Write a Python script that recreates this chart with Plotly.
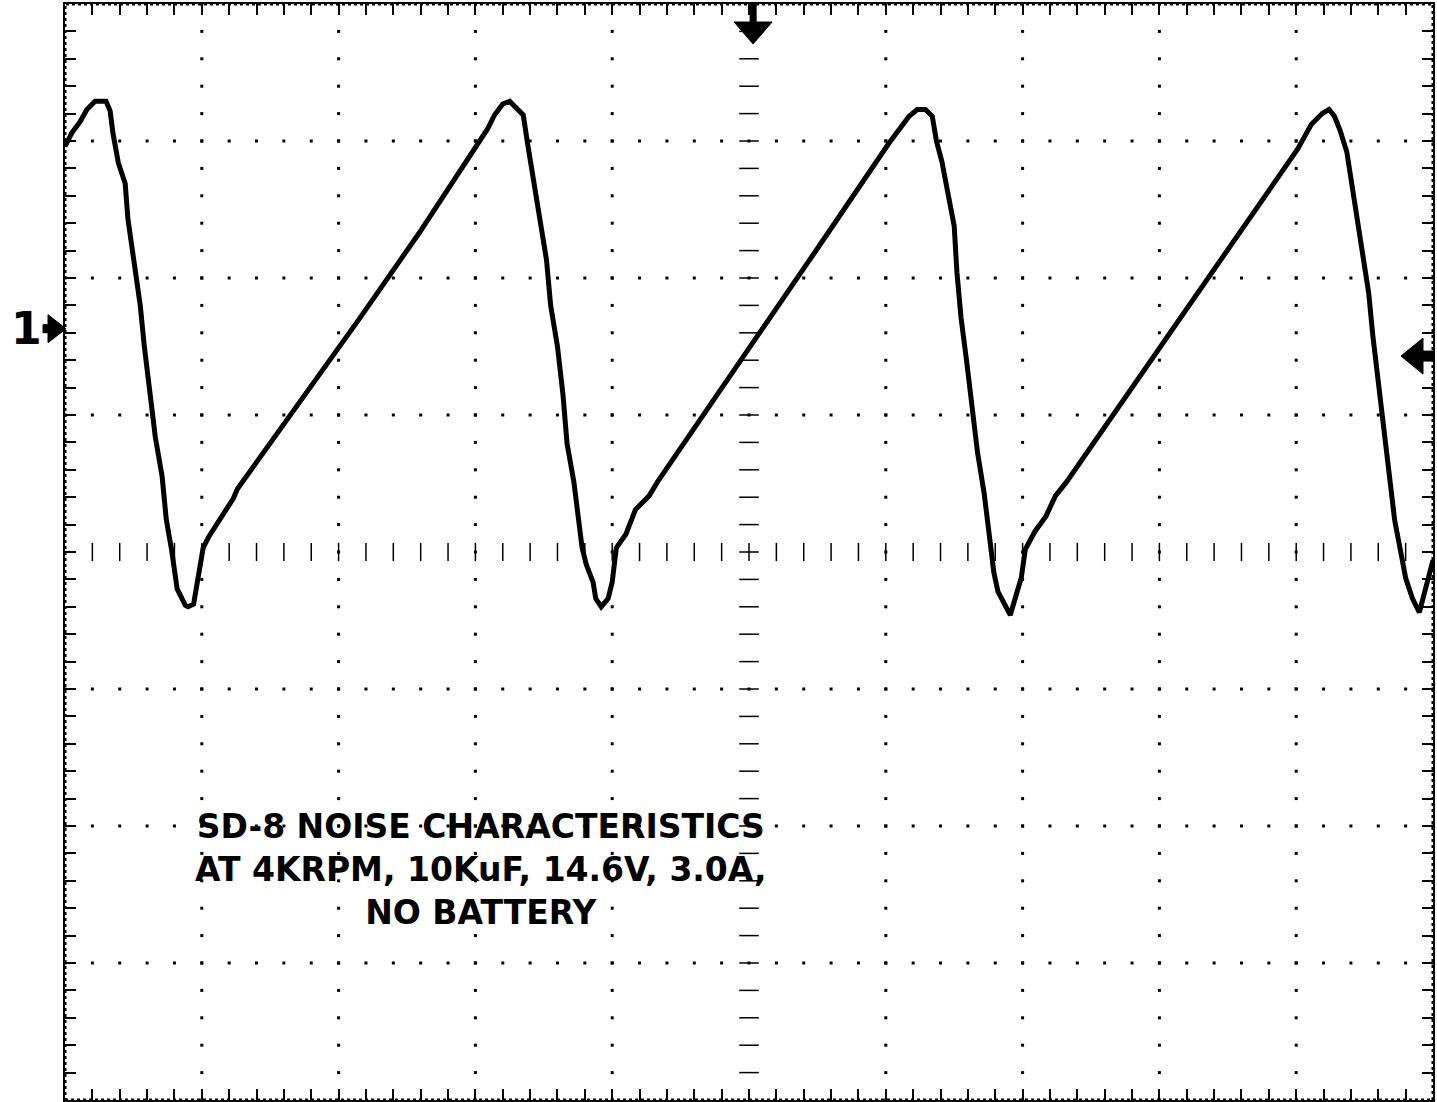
import numpy as np
import plotly.graph_objects as go

# Waveform read from the screen, in graticule divisions
# time: 0..10 div (left to right), voltage: -4..+4 div (centre line = 0)
t_div = [0.00, 0.05, 0.11, 0.16, 0.22, 0.30, 0.33, 0.35, 0.39, 0.44, 0.46, 0.50,
         0.55, 0.58, 0.62, 0.66, 0.71, 0.74, 0.78, 0.82, 0.88, 0.90, 0.94, 0.97,
         1.01, 1.05, 1.11, 1.17, 1.23, 1.26, 2.15, 2.59,
         3.03, 3.09, 3.14, 3.20, 3.25, 3.30, 3.35, 3.38, 3.42, 3.47, 3.52, 3.55,
         3.60, 3.64, 3.67, 3.72, 3.76, 3.78, 3.81, 3.86, 3.88, 3.92, 3.97, 4.00,
         4.03, 4.10, 4.17, 4.27, 4.33, 5.00, 5.51,
         6.02, 6.09, 6.17, 6.23, 6.29, 6.34, 6.37, 6.41, 6.46, 6.50, 6.52, 6.55,
         6.59, 6.63, 6.67, 6.72, 6.75, 6.79, 6.82, 6.86, 6.91, 6.96, 6.99, 7.02,
         7.09, 7.17, 7.24, 7.32, 7.99, 8.50,
         9.01, 9.06, 9.11, 9.19, 9.24, 9.28, 9.32, 9.37, 9.40, 9.44, 9.48, 9.53,
         9.56, 9.60, 9.64, 9.68, 9.72, 9.77, 9.80, 9.85, 9.90, 9.94, 9.97, 10.00]
v_div = [2.96, 3.06, 3.14, 3.23, 3.29, 3.29, 3.22, 3.06, 2.84, 2.69, 2.43, 2.13,
         1.80, 1.50, 1.15, 0.84, 0.55, 0.24, 0.01, -0.27, -0.39, -0.40, -0.38, -0.19,
         0.03, 0.11, 0.20, 0.30, 0.39, 0.46, 1.70, 2.33,
         2.99, 3.09, 3.19, 3.27, 3.29, 3.24, 3.19, 2.99, 2.74, 2.43, 2.13, 1.80,
         1.50, 1.15, 0.79, 0.51, 0.21, 0.03, -0.09, -0.22, -0.34, -0.40, -0.34, -0.22,
         0.03, 0.13, 0.31, 0.41, 0.51, 1.48, 2.23,
         2.98, 3.07, 3.18, 3.23, 3.23, 3.18, 3.00, 2.85, 2.61, 2.38, 2.04, 1.71,
         1.40, 1.03, 0.73, 0.42, 0.15, -0.15, -0.29, -0.37, -0.46, -0.29, -0.19, 0.02,
         0.15, 0.26, 0.41, 0.51, 1.47, 2.20,
         2.94, 3.03, 3.12, 3.20, 3.23, 3.18, 3.08, 2.92, 2.72, 2.48, 2.17, 1.89,
         1.58, 1.24, 0.93, 0.59, 0.23, -0.03, -0.19, -0.34, -0.44, -0.29, -0.19, -0.06]

caption_lines = ["SD-8 NOISE CHARACTERISTICS",
                 "AT 4KRPM, 10KuF, 14.6V, 3.0A,",
                 "NO BATTERY"]
channel_label = "1"
ground_level_div = 1.63     # channel 1 reference marker (left)
trigger_level_div = 1.43    # trigger level marker (right)
trigger_pos_div = 5.03      # trigger position marker (top)

fig = go.Figure()

# graticule: dotted major lines (dots every 1/5 division)
minor_x = np.round(np.arange(0, 10.0001, 0.2), 2)
minor_y = np.round(np.arange(-4, 4.0001, 0.2), 2)
gx, gy = [], []
for xv in [1, 2, 3, 4, 6, 7, 8, 9]:
    for yv in minor_y:
        gx.append(xv); gy.append(yv)
for yv in [-3, -2, -1, 1, 2, 3]:
    for xv in minor_x:
        gx.append(xv); gy.append(yv)
fig.add_trace(go.Scatter(x=gx, y=gy, mode="markers", hoverinfo="skip",
                         marker=dict(symbol="square", size=3, color="black",
                                     line=dict(width=0)), showlegend=False))
# centre lines with small tick marks
fig.add_trace(go.Scatter(x=list(minor_x[1:-1]), y=[0] * (len(minor_x) - 2), mode="markers",
                         hoverinfo="skip", showlegend=False,
                         marker=dict(symbol="line-ns", size=13, color="black",
                                     line=dict(width=1.5, color="black"))))
fig.add_trace(go.Scatter(x=[5] * (len(minor_y) - 2), y=list(minor_y[1:-1]), mode="markers",
                         hoverinfo="skip", showlegend=False,
                         marker=dict(symbol="line-ew", size=14, color="black",
                                     line=dict(width=1.5, color="black"))))

# waveform
fig.add_trace(go.Scatter(x=t_div, y=v_div, mode="lines", showlegend=False,
                         line=dict(color="black", width=5)))

ax_common = dict(showgrid=False, zeroline=False, showticklabels=False,
                 ticks="inside", ticklen=11, tickwidth=2, tickcolor="black",
                 showline=True, linecolor="black", linewidth=2, mirror="ticks",
                 fixedrange=True)
fig.update_xaxes(range=[0, 10], tick0=0, dtick=0.2, **ax_common)
fig.update_yaxes(range=[-4, 4], tick0=-4, dtick=0.2, **ax_common)

gl_paper = (ground_level_div + 4) / 8

shapes = [
    # dotted frame
    dict(type="rect", xref="x", yref="y", x0=0, x1=10, y0=-4, y1=4,
         line=dict(color="black", width=3, dash="dot")),
    # trigger position marker (top)
    dict(type="path", xref="x", yref="y", xsizemode="pixel", ysizemode="pixel",
         xanchor=trigger_pos_div, yanchor=4,
         path="M -3,2 L 3,2 L 3,-18 L 19,-18 L 0,-40 L -19,-18 L -3,-18 Z",
         fillcolor="black", line=dict(color="black", width=1)),
    # trigger level marker (right)
    dict(type="path", xref="x", yref="y", xsizemode="pixel", ysizemode="pixel",
         xanchor=10, yanchor=trigger_level_div,
         path="M 2,-5 L -10,-5 L -10,-18 L -32,0 L -10,18 L -10,5 L 2,5 Z",
         fillcolor="black", line=dict(color="black", width=1)),
    # channel 1 ground marker (left, outside the plot area)
    dict(type="path", xref="paper", yref="paper", xsizemode="pixel", ysizemode="pixel",
         xanchor=0, yanchor=gl_paper,
         path="M -22,-4 L -17,-4 L -17,-14 L 1,0 L -17,14 L -17,4 L -22,4 Z",
         fillcolor="black", line=dict(color="black", width=1)),
]

annotations = [
    dict(x=3.04, y=-2.32, xref="x", yref="y", showarrow=False,
         text="<b>" + "<br>".join(caption_lines) + "</b>", align="center",
         font=dict(family="DejaVu Sans", size=33, color="black")),
    dict(x=-0.0285, y=gl_paper, xref="paper", yref="paper", showarrow=False,
         xanchor="center", yanchor="middle",
         text="<b>" + channel_label + "</b>",
         font=dict(family="DejaVu Sans", size=44, color="black")),
]

fig.update_layout(width=1437, height=1102,
                  margin=dict(l=65, r=2, t=3, b=2),
                  paper_bgcolor="white", plot_bgcolor="white",
                  shapes=shapes, annotations=annotations, showlegend=False)

fig.write_html("out.html", config={"displayModeBar": False},
               post_script="document.body.style.margin='0';document.body.style.overflow='hidden';")
